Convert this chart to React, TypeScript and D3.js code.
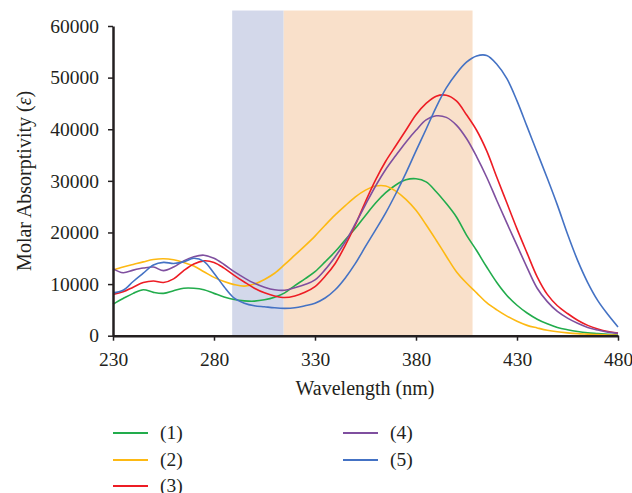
import { useEffect, useRef } from "react";
import { select, scaleLinear, line, curveCatmullRom, axisLeft, axisBottom } from "d3";

// wavelength grid (nm)
const wavelengths = [
  230, 235, 240, 245, 250, 255, 260, 265, 270, 275, 280, 285, 290, 295, 300, 305, 310,
  315, 320, 325, 330, 335, 340, 345, 350, 355, 360, 365, 370, 375, 380, 385, 390, 395,
  400, 405, 410, 415, 420, 425, 430, 435, 440, 445, 450, 455, 460, 465, 470, 475, 480,
];

// molar absorptivity for each compound
const compound1 = [
  6100, 7200, 8200, 8900, 8400, 8200, 8700, 9200, 9200, 8900, 8200, 7500, 7000, 6750, 6700, 6950, 7450,
  8300, 9700, 11000, 12400, 14300, 16300, 18600, 20800, 23300, 25700, 27700, 29200, 30200, 30400, 29800, 27900, 25600,
  23000, 19500, 16500, 13300, 10300, 7800, 5900, 4400, 3200, 2300, 1600, 1150, 800, 550, 400, 250, 150,
];
const compound2 = [
  12700, 13300, 13800, 14300, 14750, 14900, 14700, 14200, 13500, 12400, 11300, 10500, 9900, 9600, 10000, 10900, 12100,
  13800, 15600, 17400, 19300, 21400, 23400, 25200, 26900, 28200, 29000, 29000, 28000, 26400, 24300, 21500, 18500, 15400,
  12400, 10200, 8300, 6400, 5000, 3800, 2800, 2000, 1500, 1050, 750, 550, 400, 300, 200, 150, 100,
];
const compound3 = [
  8000, 8500, 9400, 10300, 10600, 10300, 11000, 12600, 13900, 14500, 14200, 13100, 11700, 10400, 9200, 8300, 7700,
  7400, 7700, 8400, 9500, 11500, 14000, 17500, 21500, 26000, 30200, 33800, 36800, 39800, 42800, 45000, 46400, 46600,
  45500, 42800, 39800, 35800, 30700, 25700, 20700, 16000, 11400, 8000, 5800, 4300, 3000, 2000, 1300, 800, 500,
];
const compound4 = [
  13000, 12200, 12700, 13100, 13300, 12600, 13300, 14500, 15300, 15600, 15000, 13800, 12400, 11200, 10150, 9400, 8900,
  8800, 9300, 9900, 10800, 12800, 15300, 18200, 21700, 25400, 29000, 32200, 34900, 37500, 39800, 41800, 42600, 42300,
  40800, 38200, 34700, 30700, 26200, 21800, 17500, 13200, 9200, 6600, 4700, 3400, 2400, 1600, 1100, 700, 450,
];
const compound5 = [
  8300, 8800, 10500, 12100, 13700, 14200, 14000, 14300, 15000, 14400, 12100, 9500, 7300, 6300, 5800, 5600, 5400,
  5300, 5400, 5800, 6300, 7300, 8900, 11200, 14000, 17300, 20500, 23800, 27500, 31500, 35800, 40000, 44300, 48000,
  50800, 53000, 54200, 54300, 52600, 49800, 45500, 40500, 35500, 30500, 25300, 19700, 14600, 10300, 6800, 4100, 1700,
];

const seriesValues = [compound1, compound2, compound3, compound4, compound5];
const seriesLabels = ["(1)", "(2)", "(3)", "(4)", "(5)"];
const seriesColors = ["#22ac4c", "#fdb913", "#ed1c24", "#7f4f9f", "#4472c4"];

// shaded wavelength windows
const bandStarts = [289, 314.5];
const bandEnds = [314.5, 408];
const bandColors = ["#d3d8ea", "#f9e0ca"];
const bandTop = 63000;

const xTicks = [230, 280, 330, 380, 430, 480];
const yTicks = [0, 10000, 20000, 30000, 40000, 50000, 60000];

const width = 632;
const height = 493;
const margin = { top: 26, right: 14, bottom: 157.3, left: 113 };
const font = "'Liberation Serif', 'DejaVu Serif', serif";

const App = () => {
  const xAxisRef = useRef<SVGGElement>(null);
  const yAxisRef = useRef<SVGGElement>(null);

  const xScale = scaleLinear().domain([230, 480]).range([margin.left, width - margin.right]);
  const yScale = scaleLinear().domain([0, 60000]).range([height - margin.bottom, margin.top]);

  const lineGen = line<number>()
    .x((_, i) => xScale(wavelengths[i]))
    .y((d) => yScale(d))
    .curve(curveCatmullRom.alpha(0.5));

  useEffect(() => {
    const xg = select(xAxisRef.current);
    xg.selectAll("*").remove();
    xg.call(axisBottom(xScale).tickValues(xTicks).tickSize(5).tickSizeOuter(0).tickPadding(11).tickFormat((d) => String(d)));
    xg.select(".domain").attr("stroke", "#231f20").attr("stroke-width", 2.5);
    xg.selectAll(".tick line").attr("stroke", "#231f20").attr("stroke-width", 1.5);
    xg.selectAll(".tick text").attr("fill", "#231f20").style("font-family", font).style("font-size", "19.5px");

    const yg = select(yAxisRef.current);
    yg.selectAll("*").remove();
    yg.call(axisLeft(yScale).tickValues(yTicks).tickSize(5).tickSizeOuter(0).tickPadding(9).tickFormat((d) => String(d)));
    yg.select(".domain").attr("stroke", "#231f20").attr("stroke-width", 2.5);
    yg.selectAll(".tick line").attr("stroke", "#231f20").attr("stroke-width", 1.5);
    yg.selectAll(".tick text").attr("fill", "#231f20").style("font-family", font).style("font-size", "19.5px");
  }, []);

  const legendX = [113, 343];
  const legendY = [433, 460, 486];

  return (
    <svg
      width={width}
      height={height}
      style={{ position: "absolute", left: 0, top: 0, background: "#fff" }}
    >
      {bandStarts.map((s, i) => (
        <rect
          key={i}
          x={xScale(s)}
          y={yScale(bandTop)}
          width={xScale(bandEnds[i]) - xScale(s)}
          height={yScale(0) - yScale(bandTop)}
          fill={bandColors[i]}
        />
      ))}

      {seriesValues.map((vals, i) => (
        <path key={i} d={lineGen(vals) ?? ""} fill="none" stroke={seriesColors[i]} strokeWidth={1.6} />
      ))}

      <g ref={xAxisRef} transform={`translate(0,${yScale(0)})`} />
      <g ref={yAxisRef} transform={`translate(${margin.left},0)`} />

      <text
        x={365}
        y={395}
        textAnchor="middle"
        fill="#231f20"
        style={{ fontFamily: font, fontSize: "20px" }}
      >
        Wavelength (nm)
      </text>
      <text
        transform={`translate(31,${(yScale(0) + yScale(60000)) / 2}) rotate(-90)`}
        textAnchor="middle"
        fill="#231f20"
        style={{ fontFamily: font, fontSize: "20px" }}
      >
        Molar Absorptivity (<tspan fontStyle="italic">ε</tspan>)
      </text>

      {seriesLabels.map((label, i) => {
        const col = i < 3 ? 0 : 1;
        const row = i < 3 ? i : i - 3;
        const lx = legendX[col];
        const ly = legendY[row];
        return (
          <g key={label}>
            <line x1={lx} x2={lx + 35} y1={ly} y2={ly} stroke={seriesColors[i]} strokeWidth={2} />
            <text
              x={lx + 47}
              y={ly + 6}
              fill="#231f20"
              style={{ fontFamily: font, fontSize: "19.5px" }}
            >
              {label}
            </text>
          </g>
        );
      })}
    </svg>
  );
};

export default App;
